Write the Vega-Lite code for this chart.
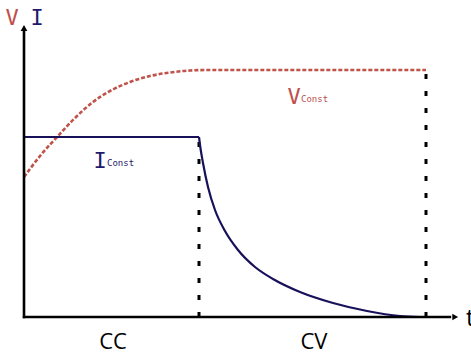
{
  "$schema": "https://vega.github.io/schema/vega-lite/v6.json",
  "width": 471,
  "height": 353,
  "padding": 0,
  "autosize": {"type": "none"},
  "background": "white",
  "config": {"view": {"stroke": null}},
  "datasets": {
    "vcurve": [
      {"t": 0, "v": 56}, {"t": 4, "v": 64.4}, {"t": 8.25, "v": 72}, {"t": 12.75, "v": 79.6},
      {"t": 17.25, "v": 86}, {"t": 21.5, "v": 90.4}, {"t": 26.5, "v": 94}, {"t": 31.5, "v": 96.4},
      {"t": 36.5, "v": 97.8}, {"t": 41.5, "v": 98.6}, {"t": 46.5, "v": 98.8}, {"t": 100.5, "v": 98.8}
    ],
    "icurve": [
      {"seg": "cc", "t": 0, "v": 72}, {"seg": "cc", "t": 43.75, "v": 72},
      {"seg": "cv", "t": 43.75, "v": 72}, {"seg": "cv", "t": 44, "v": 68.8},
      {"seg": "cv", "t": 44.75, "v": 61.6}, {"seg": "cv", "t": 46, "v": 52},
      {"seg": "cv", "t": 47.75, "v": 42.8}, {"seg": "cv", "t": 50.25, "v": 34.4},
      {"seg": "cv", "t": 53.5, "v": 26.8}, {"seg": "cv", "t": 57.75, "v": 20},
      {"seg": "cv", "t": 62.25, "v": 15.2}, {"seg": "cv", "t": 69, "v": 10},
      {"seg": "cv", "t": 77.25, "v": 5.6}, {"seg": "cv", "t": 85.75, "v": 2.4},
      {"seg": "cv", "t": 94, "v": 0.4}, {"seg": "cv", "t": 99, "v": 0}
    ],
    "vlines": [
      {"t": 43.75, "v0": 0, "v1": 72},
      {"t": 100.5, "v0": 0, "v1": 98.8}
    ],
    "axes": [
      {"t0": 0, "t1": 0, "v0": -0.5, "v1": 114.5},
      {"t0": -0.3, "t1": 106.8, "v0": 0, "v1": 0}
    ],
    "arrowUp": [{"t": 0, "v": 115.6}],
    "arrowRight": [{"t": 107.8, "v": 0}]
  },
  "encoding": {
    "x": {"type": "quantitative", "scale": {"domain": [-6, 111.75], "nice": false, "zero": false}, "axis": null},
    "y": {"type": "quantitative", "scale": {"domain": [-14.4, 126.8], "nice": false, "zero": false}, "axis": null}
  },
  "layer": [
    {
      "data": {"name": "vlines"},
      "mark": {"type": "rule", "color": "black", "strokeWidth": 3, "strokeDash": [5, 12]},
      "encoding": {"x": {"field": "t"}, "y": {"field": "v0"}, "y2": {"field": "v1"}}
    },
    {
      "data": {"name": "vcurve"},
      "mark": {"type": "line", "color": "#bf5249", "strokeWidth": 2.6, "strokeDash": [4, 2], "interpolate": "monotone"},
      "encoding": {"x": {"field": "t"}, "y": {"field": "v"}}
    },
    {
      "data": {"name": "icurve"},
      "mark": {"type": "line", "color": "#17115a", "strokeWidth": 2.2, "interpolate": "monotone"},
      "encoding": {"x": {"field": "t"}, "y": {"field": "v"}, "detail": {"field": "seg"}}
    },
    {
      "data": {"name": "axes"},
      "mark": {"type": "rule", "color": "black", "strokeWidth": 2.6},
      "encoding": {"x": {"field": "t0"}, "x2": {"field": "t1"}, "y": {"field": "v0"}, "y2": {"field": "v1"}}
    },
    {
      "data": {"name": "arrowUp"},
      "mark": {"type": "point", "shape": "triangle-up", "filled": true, "color": "black", "size": 45, "opacity": 1},
      "encoding": {"x": {"field": "t"}, "y": {"field": "v"}}
    },
    {
      "data": {"name": "arrowRight"},
      "mark": {"type": "point", "shape": "triangle-right", "filled": true, "color": "black", "size": 45, "opacity": 1},
      "encoding": {"x": {"field": "t"}, "y": {"field": "v"}}
    },
    {
      "data": {"values": [{"t": -3, "v": 116.8, "label": "V"}, {"t": 67.5, "v": 85.2, "label": "V"}]},
      "mark": {"type": "text", "color": "#c0504d", "font": "DejaVu Sans Mono", "fontSize": 22, "align": "center", "baseline": "alphabetic"},
      "encoding": {"x": {"field": "t"}, "y": {"field": "v"}, "text": {"field": "label"}}
    },
    {
      "data": {"values": [{"t": 69.25, "v": 86, "label": "Const"}]},
      "mark": {"type": "text", "color": "#c0504d", "font": "DejaVu Sans Mono", "fontSize": 9, "align": "left", "baseline": "alphabetic"},
      "encoding": {"x": {"field": "t"}, "y": {"field": "v"}, "text": {"field": "label"}}
    },
    {
      "data": {"values": [{"t": 3.25, "v": 116.8, "label": "I"}, {"t": 19, "v": 59.6, "label": "I"}]},
      "mark": {"type": "text", "color": "#1f1a6b", "font": "DejaVu Sans Mono", "fontSize": 22, "align": "center", "baseline": "alphabetic"},
      "encoding": {"x": {"field": "t"}, "y": {"field": "v"}, "text": {"field": "label"}}
    },
    {
      "data": {"values": [{"t": 20.75, "v": 60.4, "label": "Const"}]},
      "mark": {"type": "text", "color": "#1f1a6b", "font": "DejaVu Sans Mono", "fontSize": 9, "align": "left", "baseline": "alphabetic"},
      "encoding": {"x": {"field": "t"}, "y": {"field": "v"}, "text": {"field": "label"}}
    },
    {
      "data": {"values": [{"t": 22.25, "v": -12.8, "label": "CC"}, {"t": 72.5, "v": -12.8, "label": "CV"}]},
      "mark": {"type": "text", "color": "black", "font": "Open Sans", "fontSize": 22, "align": "center", "baseline": "alphabetic"},
      "encoding": {"x": {"field": "t"}, "y": {"field": "v"}, "text": {"field": "label"}}
    },
    {
      "data": {"values": [{"t": 110.5, "v": -3.6, "label": "t"}]},
      "mark": {"type": "text", "color": "black", "font": "Open Sans", "fontSize": 24, "align": "left", "baseline": "alphabetic"},
      "encoding": {"x": {"field": "t"}, "y": {"field": "v"}, "text": {"field": "label"}}
    }
  ]
}
